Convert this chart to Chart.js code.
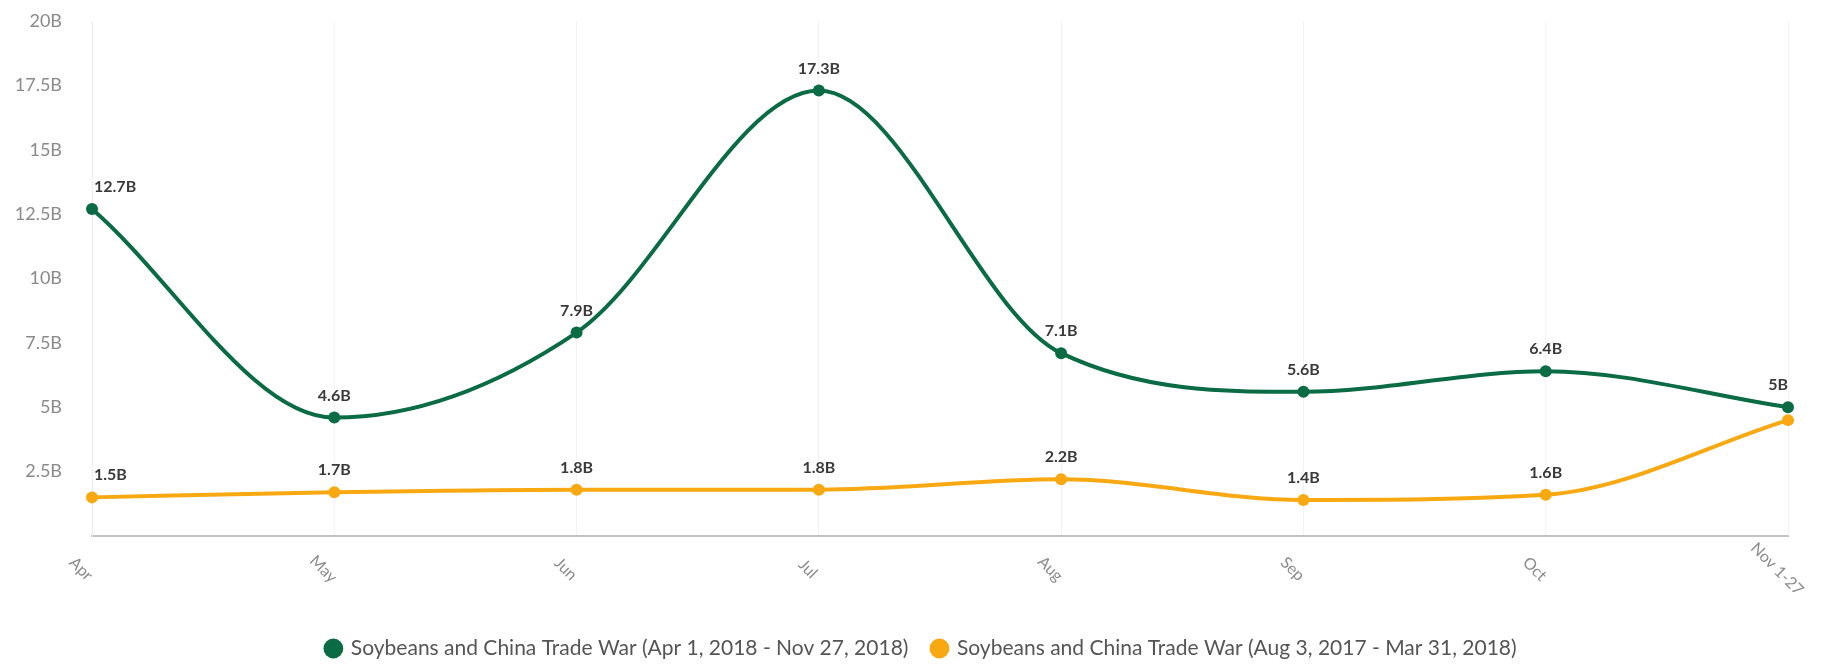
<!DOCTYPE html>
<html>
<head>
<meta charset="utf-8">
<script src="https://cdn.jsdelivr.net/npm/chart.js@4/dist/chart.umd.min.js"></script>
<style>
html,body{margin:0;padding:0;background:#fff;}
#wrap{width:1843px;height:669px;position:relative;}
</style>
</head>
<body>
<div id="wrap"><canvas id="c" width="1843" height="669"></canvas></div>
<script>
const categories = ['Apr','May','Jun','Jul','Aug','Sep','Oct','Nov 1-27'];
const series2018 = [12.7, 4.6, 7.9, 17.3, 7.1, 5.6, 6.4, 5.0];
const series2017 = [1.5, 1.7, 1.8, 1.8, 2.2, 1.4, 1.6, 4.5];
const seriesNames = ['Soybeans and China Trade War (Apr 1, 2018 - Nov 27, 2018)','Soybeans and China Trade War (Aug 3, 2017 - Mar 31, 2018)'];
const yTicks = [0, 2.5, 5, 7.5, 10, 12.5, 15, 17.5, 20];

const GREEN = '#0a6b45';
const ORANGE = '#f8a912';
const FONT = 'Lato, "Open Sans", sans-serif';

function fmt(v){ return (Math.round(v*10)/10) + 'B'; }

const dataLabels = {
  id:'dataLabels',
  afterDatasetsDraw(chart){
    const ctx = chart.ctx, ca = chart.chartArea;
    const boxes = [];
    ctx.save();
    ctx.font = 'bold 16px ' + FONT;
    ctx.textBaseline = 'alphabetic';
    ctx.textAlign = 'left';
    chart.data.datasets.forEach((ds, di) => {
      const meta = chart.getDatasetMeta(di);
      meta.data.forEach((pt, i) => {
        const txt = fmt(ds.data[i]);
        const w = ctx.measureText(txt).width;
        let x = pt.x - w/2;
        if (x < ca.left + 2) x = ca.left + 2;
        if (x + w > ca.right) x = ca.right - w;
        const base = pt.y - 17;
        const box = {l:x, r:x+w, t:base-13, b:base+2};
        const hit = boxes.some(b => !(box.r < b.l || box.l > b.r || box.b < b.t || box.t > b.b));
        let markerHit = false;
        chart.data.datasets.forEach((d2, dj) => {
          if (dj === di) return;
          const p2 = chart.getDatasetMeta(dj).data[i];
          if (p2 && p2.x + 6 > box.l && p2.x - 6 < box.r && p2.y + 6 > box.t && p2.y - 6 < box.b) markerHit = true;
        });
        if (hit || markerHit) return;
        boxes.push(box);
        ctx.lineWidth = 3;
        ctx.strokeStyle = '#ffffff';
        ctx.lineJoin = 'round';
        ctx.strokeText(txt, x, base);
        ctx.fillStyle = '#3a3a3a';
        ctx.fillText(txt, x, base);
      });
    });
    ctx.restore();
  }
};

const xLabels = {
  id:'xLabels',
  afterDraw(chart){
    const ctx = chart.ctx, xs = chart.scales.x, ca = chart.chartArea;
    ctx.save();
    ctx.font = '16px ' + FONT;
    ctx.fillStyle = '#8a8a8a';
    ctx.textAlign = 'center';
    ctx.textBaseline = 'middle';
    categories.forEach((c, i) => {
      const x = xs.getPixelForValue(i) - 11;
      const y = ca.bottom + 33;
      ctx.save();
      ctx.translate(x, y);
      ctx.rotate(Math.PI/4);
      ctx.fillText(c, 0, 0);
      ctx.restore();
    });
    ctx.restore();
  }
};

new Chart(document.getElementById('c'), {
  type:'line',
  data:{
    labels: categories,
    datasets:[
      {label: seriesNames[0], data: series2018, borderColor: GREEN, backgroundColor: GREEN,
       borderWidth: 4, pointRadius: 6, pointHoverRadius: 6, pointBackgroundColor: GREEN, pointBorderWidth: 0,
       cubicInterpolationMode:'monotone', order: 1},
      {label: seriesNames[1], data: series2017, borderColor: ORANGE, backgroundColor: ORANGE,
       borderWidth: 4, pointRadius: 6, pointHoverRadius: 6, pointBackgroundColor: ORANGE, pointBorderWidth: 0,
       cubicInterpolationMode:'monotone', order: 2}
    ]
  },
  options:{
    responsive:false,
    animation:false,
    layout:{padding:{left:0,right:0,top:21,bottom:0}},
    scales:{
      x:{
        offset:false,
        grid:{display:true, color:'#f2f2f2', lineWidth:1, drawTicks:false},
        border:{display:true, color:'#c4c4c4', width:2},
        ticks:{display:false},
        afterFit(s){ s.height = 78; s.paddingLeft = 0; s.paddingRight = 55; }
      },
      y:{
        min:0, max:20,
        afterBuildTicks(s){ s.ticks = yTicks.map(v => ({value:v})); },
        grid:{display:false, drawTicks:false},
        border:{display:true, color:'#ececec', width:1},
        ticks:{
          padding:30,
          color:'#8a8a8a',
          font:{family:FONT, size:18},
          callback(v){ return v === 0 ? '' : fmt(v); }
        },
        afterFit(s){ s.width = 92; s.paddingTop = 0; s.paddingBottom = 0; }
      }
    },
    plugins:{
      legend:{
        position:'bottom',
        labels:{
          usePointStyle:true,
          pointStyle:'circle',
          boxWidth:14, boxHeight:14,
          padding:24,
          color:'#555555',
          font:{family:FONT, size:21}
        }
      },
      tooltip:{enabled:false}
    }
  },
  plugins:[dataLabels, xLabels]
});
</script>
</body>
</html>
